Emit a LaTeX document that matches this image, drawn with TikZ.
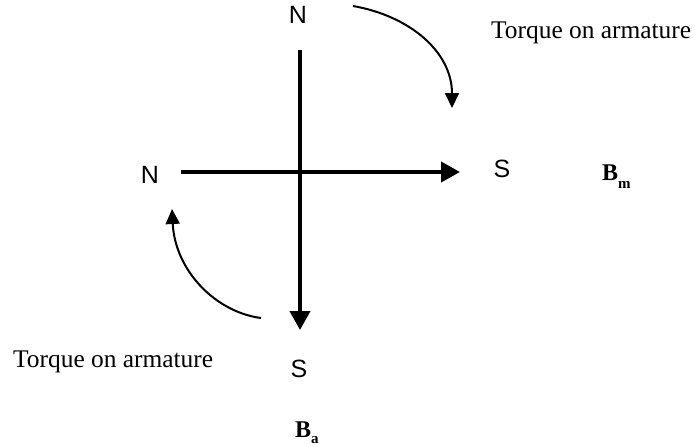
\documentclass[tikz,border=0pt]{standalone}
\usepackage{fontspec}
\setmainfont{Liberation Serif}
\newfontfamily\arialf{Liberation Sans}
\usetikzlibrary{arrows.meta}
\tikzset{
  pole/.style={inner sep=0pt, font=\arialf\fontsize{25}{30}\selectfont},
  lbl/.style={inner sep=0pt, anchor=base west, font=\fontsize{25.4}{30}\selectfont},
  fieldlbl/.style={inner sep=0pt, anchor=base west, font=\bfseries\fontsize{24}{28}\selectfont},
  axis/.style={line width=4pt, -{Triangle[width=20pt,length=19pt]}},
  torque/.style={line width=2pt, -{Triangle[width=14pt,length=15pt]}}
}
\begin{document}
\begin{tikzpicture}[x=1pt,y=-1pt]
\useasboundingbox (0,0) rectangle (696,447);
% pole labels
\node[pole] (Ntop) at (298,15) {N};
\node[pole] (Nleft) at (150,175) {N};
\node[pole] (Sright) at (502,169) {S};
\node[pole] (Sbot) at (299,369) {S};
% torque labels
\node[lbl] (ttop) at (491,38) {Torque on armature};
\node[lbl] (tbot) at (13,367) {Torque on armature};
% field labels
\node[fieldlbl] (Bm) at (602,180) {B\raisebox{-8pt}{\fontsize{15}{15}\selectfont m}};
\node[fieldlbl] (Ba) at (295,437) {B\raisebox{-6pt}{\fontsize{15}{15}\selectfont a}};
% axes
\coordinate (vtop) at (300,50);
\coordinate (vend) at (300,330);
\coordinate (hleft) at (181,172);
\coordinate (hend) at (460,172);
\draw[axis] (vtop) -- (vend);
\draw[axis] (hleft) -- (hend);
% torque arrows
\coordinate (a1s) at (353,6);
\coordinate (a1e) at (452,108);
\coordinate (a2s) at (261,318);
\coordinate (a2e) at (172,209);
\draw[torque] (a1s) .. controls (410,16) and (452,52) .. (a1e);
\draw[torque] (a2s) .. controls (215,312) and (175,270) .. (a2e);
\end{tikzpicture}
\end{document}
